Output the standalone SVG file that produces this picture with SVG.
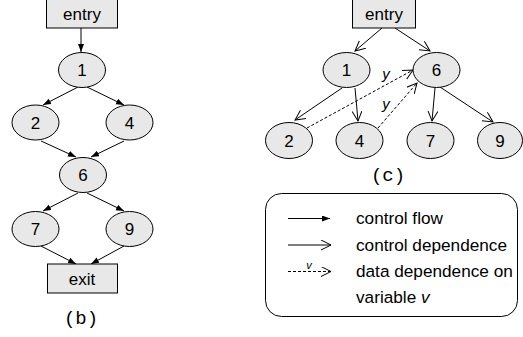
<svg xmlns="http://www.w3.org/2000/svg" width="523" height="337" viewBox="0 0 523 337">
<style>
.node{fill:#e8e8e8;stroke:#000;stroke-width:1}
.t{font-family:"Liberation Sans",Arial,sans-serif;font-size:17px;fill:#000;text-anchor:middle}
.lt{font-family:"Liberation Sans",Arial,sans-serif;font-size:17.2px;fill:#000}
.cap{font-family:"Liberation Mono","Courier New",monospace;font-size:19px;fill:#000;text-anchor:middle}
.cf{stroke:#000;stroke-width:1;fill:none;marker-end:url(#fa)}
.cd{stroke:#000;stroke-width:1;fill:none;marker-end:url(#oa)}
.dd{stroke:#000;stroke-width:1;fill:none;stroke-dasharray:3,2;marker-end:url(#oa)}
.v{font-family:"Liberation Sans",Arial,sans-serif;font-style:italic;fill:#000}
</style>
<defs>
<marker id="fa" markerUnits="userSpaceOnUse" markerWidth="10" markerHeight="10" refX="8" refY="3" orient="auto">
<path d="M0,0 L8,3 L0,6 Z" fill="#000"/>
</marker>
<marker id="oa" markerUnits="userSpaceOnUse" markerWidth="12" markerHeight="12" refX="10" refY="5" orient="auto">
<path d="M0,0 L10,5 L0,10" fill="none" stroke="#000" stroke-width="1"/>
</marker>
</defs>

<g id="connectors">
<line class="cf" x1="81" y1="28" x2="81" y2="52"/>
<line class="cf" x1="78" y1="87" x2="43" y2="105"/>
<line class="cf" x1="87" y1="87" x2="124" y2="105"/>
<line class="cf" x1="41" y1="141" x2="76" y2="157"/>
<line class="cf" x1="124" y1="141" x2="91" y2="157"/>
<line class="cf" x1="78" y1="193" x2="43" y2="211"/>
<line class="cf" x1="87" y1="193" x2="124" y2="211"/>
<line class="cf" x1="41" y1="246" x2="76" y2="264"/>
<line class="cf" x1="124" y1="246" x2="91" y2="264"/>

<line class="cd" x1="382" y1="28" x2="355" y2="51"/>
<line class="cd" x1="395" y1="28" x2="430" y2="51"/>
<line class="cd" x1="342" y1="88" x2="295" y2="120"/>
<line class="cd" x1="355" y1="88" x2="358" y2="121"/>
<line class="cd" x1="435" y1="88" x2="432" y2="121"/>
<line class="cd" x1="440" y1="87" x2="493" y2="122"/>
<line class="dd" x1="307" y1="128" x2="413" y2="70"/>
<line class="dd" x1="378" y1="128" x2="417" y2="83"/>
<text class="v" x="386" y="79" font-size="15" text-anchor="middle">y</text>
<text class="v" x="386" y="109" font-size="15" text-anchor="middle">y</text>
</g>

<g id="b-entry"><rect class="node" x="46.5" y="-1" width="71" height="29"/><text class="t" x="82" y="20">entry</text></g>
<g id="b-n1"><ellipse class="node" cx="82" cy="70" rx="23.5" ry="17.5"/><text class="t" x="82" y="76">1</text></g>
<g id="b-n2"><ellipse class="node" cx="35.5" cy="122.5" rx="23.5" ry="17.5"/><text class="t" x="35.5" y="128.5">2</text></g>
<g id="b-n4"><ellipse class="node" cx="129.5" cy="122.5" rx="23.5" ry="17.5"/><text class="t" x="129.5" y="128.5">4</text></g>
<g id="b-n6"><ellipse class="node" cx="83" cy="175" rx="23.5" ry="17.5"/><text class="t" x="83" y="181">6</text></g>
<g id="b-n7"><ellipse class="node" cx="35.5" cy="229" rx="23.5" ry="17.5"/><text class="t" x="35.5" y="235">7</text></g>
<g id="b-n9"><ellipse class="node" cx="129.5" cy="229" rx="23.5" ry="17.5"/><text class="t" x="129.5" y="235">9</text></g>
<g id="b-exit"><rect class="node" x="47.5" y="264" width="70" height="29"/><text class="t" x="82" y="284.5">exit</text></g>
<text class="cap" x="81" y="324">(b)</text>

<g id="c-entry"><rect class="node" x="352.5" y="-1" width="63" height="29"/><text class="t" x="384" y="20">entry</text></g>
<g id="c-n1"><ellipse class="node" cx="346.5" cy="70" rx="23.5" ry="17.5"/><text class="t" x="346.5" y="76">1</text></g>
<g id="c-n6"><ellipse class="node" cx="436.5" cy="70" rx="23.5" ry="17.5"/><text class="t" x="436.5" y="76">6</text></g>
<g id="c-n2"><ellipse class="node" cx="289" cy="140.5" rx="23.5" ry="18"/><text class="t" x="289" y="146.5">2</text></g>
<g id="c-n4"><ellipse class="node" cx="359.5" cy="140.5" rx="23.5" ry="18"/><text class="t" x="359.5" y="146.5">4</text></g>
<g id="c-n7"><ellipse class="node" cx="430.5" cy="140.5" rx="23.5" ry="18"/><text class="t" x="430.5" y="146.5">7</text></g>
<g id="c-n9"><ellipse class="node" cx="500" cy="140.5" rx="22.5" ry="18"/><text class="t" x="500" y="146.5">9</text></g>
<text class="cap" x="388" y="181">(c)</text>

<g id="legend">
<rect x="265.5" y="193.5" width="252" height="123" rx="16" ry="16" fill="#fff" stroke="#000" stroke-width="1"/>
<line class="cf" x1="288" y1="218.5" x2="330" y2="218.5"/>
<text class="lt" x="356" y="224">control flow</text>
<line class="cd" x1="288" y1="245" x2="331" y2="245"/>
<text class="lt" x="356" y="251">control dependence</text>
<line class="dd" x1="288" y1="271.5" x2="331" y2="271.5"/>
<text class="v" x="309" y="269" font-size="11" text-anchor="middle">v</text>
<text class="lt" x="356" y="277">data dependence on</text>
<text class="lt" x="356" y="303">variable <tspan font-style="italic">v</tspan></text>
</g>
</svg>
